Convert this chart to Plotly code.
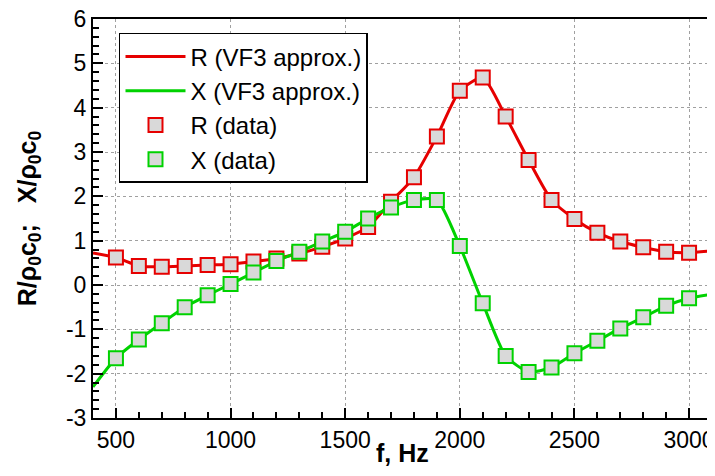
import plotly.graph_objects as go

# Data points (frequency, Hz)
f_data = [500, 600, 700, 800, 900, 1000, 1100, 1200, 1300, 1400, 1500, 1600, 1700,
          1800, 1900, 2000, 2100, 2200, 2300, 2400, 2500, 2600, 2700, 2800, 2900, 3000]
R_data = [0.62, 0.43, 0.41, 0.43, 0.45, 0.47, 0.53, 0.60, 0.71, 0.86, 1.05, 1.31, 1.88,
          2.43, 3.35, 4.38, 4.68, 3.80, 2.82, 1.92, 1.49, 1.18, 0.98, 0.85, 0.75, 0.73]
X_data = [-1.65, -1.23, -0.86, -0.50, -0.23, 0.02, 0.28, 0.54, 0.75, 0.98, 1.20, 1.50, 1.75,
          1.92, 1.92, 0.88, -0.41, -1.60, -1.96, -1.86, -1.54, -1.26, -0.98, -0.73, -0.47, -0.30]

f_line = [400] + f_data + [3100]
R_line = [0.72] + R_data + [0.77]
X_line = [-2.30] + X_data + [-0.21]

x_ticks = [500, 1000, 1500, 2000, 2500, 3000]
x_labels = ["500", "1000", "1500", "2000", "2500", "3000"]
y_ticks = [-3, -2, -1, 0, 1, 2, 3, 4, 5, 6]
y_labels = ["-3", "-2", "-1", "0", "1", "2", "3", "4", "5", "6"]

RED = "#e60000"
GREEN = "#00d200"
FILL = "#d9d9d9"
FONT = "Liberation Sans, Arial, sans-serif"

fig = go.Figure()
fig.add_trace(go.Scatter(x=f_line, y=R_line, mode="lines", name="R (VF3 approx.)",
                         line=dict(color=RED, width=3, shape="spline", smoothing=0.6)))
fig.add_trace(go.Scatter(x=f_line, y=X_line, mode="lines", name="X (VF3 approx.)",
                         line=dict(color=GREEN, width=3, shape="spline", smoothing=0.6)))
fig.add_trace(go.Scatter(x=f_data, y=R_data, mode="markers", name="R (data)",
                         marker=dict(symbol="square", size=14, color=FILL,
                                     line=dict(color=RED, width=2))))
fig.add_trace(go.Scatter(x=f_data, y=X_data, mode="markers", name="X (data)",
                         marker=dict(symbol="square", size=14, color=FILL,
                                     line=dict(color=GREEN, width=2))))

# page body has an 8px default margin, so the figure is sized/offset to compensate
fig.update_layout(
    width=707, height=468,
    margin=dict(l=85, r=3, t=11, b=58),
    paper_bgcolor="white", plot_bgcolor="white",
    font=dict(family=FONT, size=23, color="black"),
    showlegend=True,
    legend=dict(x=0.042, y=0.965, xanchor="left", yanchor="top",
                bgcolor="white", bordercolor="black", borderwidth=1.5,
                font=dict(size=24, family=FONT), itemwidth=60,
                entrywidth=190, entrywidthmode="pixels",
                tracegroupgap=0),
    xaxis=dict(range=[400, 3100], tickvals=x_ticks, ticktext=x_labels,
               ticks="inside", ticklen=10, automargin=False,
               ticklabeloverflow="allow",
               tickwidth=2, tickcolor="black",
               minor=dict(dtick=100, ticks="inside", ticklen=6, tickcolor="black",
                          showgrid=False),
               showgrid=True, gridcolor="#a0a0a0", griddash="dot", gridwidth=1,
               showline=True, linecolor="black", linewidth=2, mirror=True,
               zeroline=False),
    yaxis=dict(range=[-3, 6], tickvals=y_ticks, ticktext=y_labels,
               ticks="inside", ticklen=10, automargin=False,
               ticklabeloverflow="allow",
               tickwidth=2, tickcolor="black",
               minor=dict(dtick=0.2, ticks="inside", ticklen=6, tickcolor="black",
                          showgrid=False),
               showgrid=True, gridcolor="#a0a0a0", griddash="dot", gridwidth=1,
               showline=True, linecolor="black", linewidth=2, mirror=True,
               zeroline=False,
               title=dict(text="<b>R/ρ<sub>0</sub>c<sub>0</sub>;   X/ρ<sub>0</sub>c<sub>0</sub></b>",
                          font=dict(size=25), standoff=22)),
    annotations=[dict(text="<b>f, Hz</b>", xref="paper", yref="paper", x=0.5, y=-0.0877,
                      xanchor="center", yanchor="middle", showarrow=False,
                      font=dict(size=25, family=FONT))],
)

fig.write_html("out.html")
